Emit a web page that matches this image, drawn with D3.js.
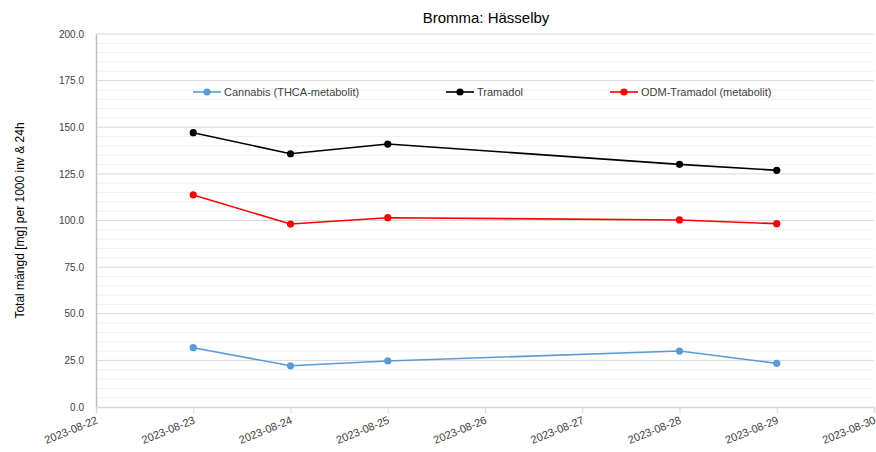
<!DOCTYPE html>
<html>
<head>
<meta charset="utf-8">
<script src="https://cdn.jsdelivr.net/npm/d3@7"></script>
<style>
  body { margin: 0; background: #fff; }
  svg { display: block; font-family: "Liberation Sans Narrow", "Liberation Sans", Arial, sans-serif; }
</style>
</head>
<body>
<div id="chart"></div>
<script>
// data
var dates = ['2023-08-23', '2023-08-24', '2023-08-25', '2023-08-28', '2023-08-29'];
var cannabis = [31.8, 22.1, 24.7, 30.0, 23.4];
var tramadol = [147.1, 135.8, 141.0, 130.1, 126.9];
var odmTramadol = [113.7, 98.1, 101.5, 100.3, 98.3];
var xTickLabels = ['2023-08-22', '2023-08-23', '2023-08-24', '2023-08-25', '2023-08-26',
                   '2023-08-27', '2023-08-28', '2023-08-29', '2023-08-30'];
var yTicks = [0, 25, 50, 75, 100, 125, 150, 175, 200];

var series = [
    { name: 'Cannabis (THCA-metabolit)', color: '#5b9bd5', values: cannabis, lx: 193 },
    { name: 'Tramadol', color: '#000000', values: tramadol, lx: 446 },
    { name: 'ODM-Tramadol (metabolit)', color: '#ff0000', values: odmTramadol, lx: 610 }
];

var width = 876, height = 452;
var margin = { left: 96, right: 2, top: 34, bottom: 45 };

var svg = d3.select('#chart').append('svg')
    .attr('width', width)
    .attr('height', height);

var parse = d3.timeParse('%Y-%m-%d');
var x = d3.scaleTime()
    .domain([parse(xTickLabels[0]), parse(xTickLabels[xTickLabels.length - 1])])
    .range([margin.left, width - margin.right]);
var y = d3.scaleLinear()
    .domain([0, 200])
    .range([height - margin.bottom, margin.top]);

// minor grid
svg.append('g').selectAll('line')
    .data(d3.range(5, 200, 5).filter(function (v) { return v % 25 !== 0; }))
    .enter().append('line')
    .attr('x1', margin.left).attr('x2', width - margin.right)
    .attr('y1', function (d) { return y(d); }).attr('y2', function (d) { return y(d); })
    .style('stroke', '#f0f0f0').style('stroke-width', 1);

// major grid
svg.append('g').selectAll('line')
    .data(yTicks.slice(1))
    .enter().append('line')
    .attr('x1', margin.left).attr('x2', width - margin.right)
    .attr('y1', function (d) { return y(d); }).attr('y2', function (d) { return y(d); })
    .style('stroke', '#d9d9d9').style('stroke-width', 1);

// y axis
var yAxis = svg.append('g')
    .attr('transform', 'translate(' + margin.left + ',0)')
    .call(d3.axisLeft(y).tickValues(yTicks).tickSize(0).tickPadding(12).tickFormat(d3.format('.1f')));
yAxis.select('.domain').style('stroke', '#bfbfbf').style('stroke-width', 1.5);
yAxis.selectAll('text').style('font-size', '10px').style('fill', '#404040');

// x axis
var xAxis = svg.append('g')
    .attr('transform', 'translate(0,' + y(0) + ')')
    .call(d3.axisBottom(x)
        .tickValues(xTickLabels.map(parse))
        .tickSize(6)
        .tickFormat(d3.timeFormat('%Y-%m-%d')));
xAxis.select('.domain').style('stroke', '#d9d9d9').style('stroke-width', 1.5);
xAxis.selectAll('.tick line').style('stroke', '#d9d9d9');
xAxis.selectAll('text')
    .style('font-size', '11px')
    .style('fill', '#404040')
    .style('text-anchor', 'end')
    .attr('dy', 0)
    .attr('y', 0)
    .attr('transform', 'translate(2,16) rotate(-22)');

// y label
svg.append('text')
    .attr('transform', 'translate(24,' + (y(100)) + ') rotate(-90)')
    .attr('text-anchor', 'middle')
    .style('font-size', '12px')
    .style('fill', '#000')
    .text('Total mängd [mg] per 1000 inv & 24h');

// title
svg.append('text')
    .attr('x', 486).attr('y', 23)
    .attr('text-anchor', 'middle')
    .style('font-size', '15px')
    .style('fill', '#000')
    .text('Bromma: Hässelby');

var line = d3.line()
    .x(function (d, i) { return x(parse(dates[i])); })
    .y(function (d) { return y(d); });

series.forEach(function (s) {
    var g = svg.append('g');
    g.append('path')
        .datum(s.values)
        .attr('d', line)
        .style('fill', 'none')
        .style('stroke', s.color)
        .style('stroke-width', 1.6);
    g.selectAll('circle')
        .data(s.values)
        .enter().append('circle')
        .attr('cx', function (d, i) { return x(parse(dates[i])); })
        .attr('cy', function (d) { return y(d); })
        .attr('r', 3.6)
        .style('fill', s.color);

    // legend
    var ly = 92;
    var lg = svg.append('g');
    lg.append('line')
        .attr('x1', s.lx).attr('x2', s.lx + 28)
        .attr('y1', ly).attr('y2', ly)
        .style('stroke', s.color).style('stroke-width', 1.6);
    lg.append('circle')
        .attr('cx', s.lx + 14).attr('cy', ly).attr('r', 3.6)
        .style('fill', s.color);
    lg.append('text')
        .attr('x', s.lx + 31).attr('y', ly + 4)
        .style('font-size', '11px')
        .style('fill', '#404040')
        .text(s.name);
});
</script>
</body>
</html>
